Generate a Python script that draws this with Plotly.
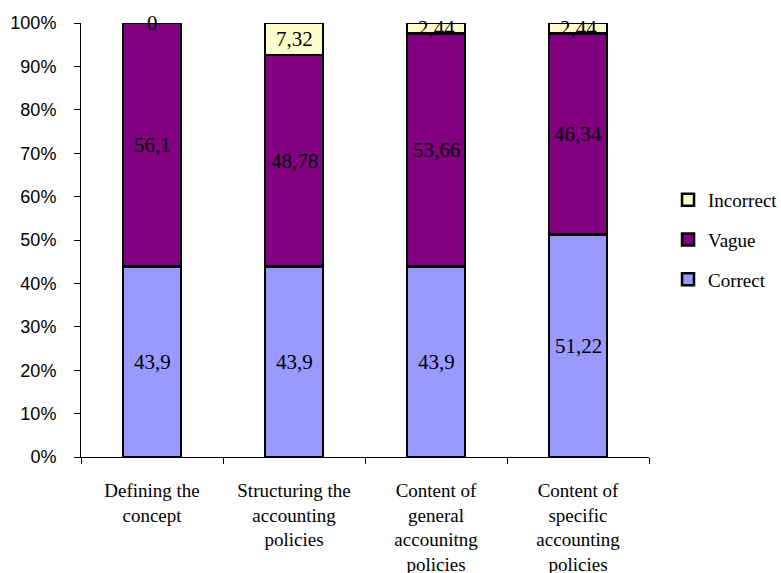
import plotly.graph_objects as go

categories = [
    "Defining the<br>concept",
    "Structuring the<br>accounting<br>policies",
    "Content of<br>general<br>accounitng<br>policies",
    "Content of<br>specific<br>accounting<br>policies",
]
correct = [43.9, 43.9, 43.9, 51.22]
vague = [56.1, 48.78, 53.66, 46.34]
incorrect = [0, 7.32, 2.44, 2.44]

series = [
    ("Correct", correct, "#9999FF", 3),
    ("Vague", vague, "#800080", 2),
    ("Incorrect", incorrect, "#FFFFCC", 1),
]

serif = "'Times New Roman', 'Liberation Serif', serif"
sans = "Arial, 'Liberation Sans', sans-serif"


def fmt(v):
    return f"{v:g}".replace(".", ",")


fig = go.Figure()
annotations = []
base = [0.0] * len(categories)
for name, vals, color, rank in series:
    fig.add_trace(go.Bar(
        x=categories, y=vals, name=name, legendgroup=name, legendrank=rank,
        marker=dict(color=color, line=dict(color="black", width=2.5)),
    ))
    for i, v in enumerate(vals):
        annotations.append(dict(
            x=categories[i], y=base[i] + v / 2, text=fmt(v),
            showarrow=False, xref="x", yref="y",
            font=dict(family=serif, size=21, color="black"),
        ))
        base[i] += v

fig.update_layout(
    barmode="stack",
    bargap=0.59,
    width=781, height=573,
    margin=dict(l=81, r=132, t=23, b=116, autoexpand=False),
    plot_bgcolor="white", paper_bgcolor="white",
    showlegend=True,
    legend=dict(
        x=1.0335, xanchor="left", y=0.5, yanchor="middle",
        traceorder="grouped", tracegroupgap=12,
        font=dict(family=serif, size=19, color="black"),
    ),
    annotations=annotations,
    xaxis=dict(
        showline=True, linecolor="black", linewidth=1, automargin=False,
        ticks="outside", tickson="boundaries", ticklen=6, tickcolor="black",
        tickfont=dict(family=serif, size=19, color="black"),
        ticklabelstandoff=16,
    ),
    yaxis=dict(
        range=[0, 100], dtick=10, ticksuffix="%", automargin=False,
        showline=True, linecolor="black", linewidth=1,
        ticks="outside", ticklen=6, tickcolor="black",
        showgrid=False, zeroline=False,
        tickfont=dict(family=sans, size=18, color="black"),
        ticklabelstandoff=14,
    ),
)

fig.write_html("out.html")
